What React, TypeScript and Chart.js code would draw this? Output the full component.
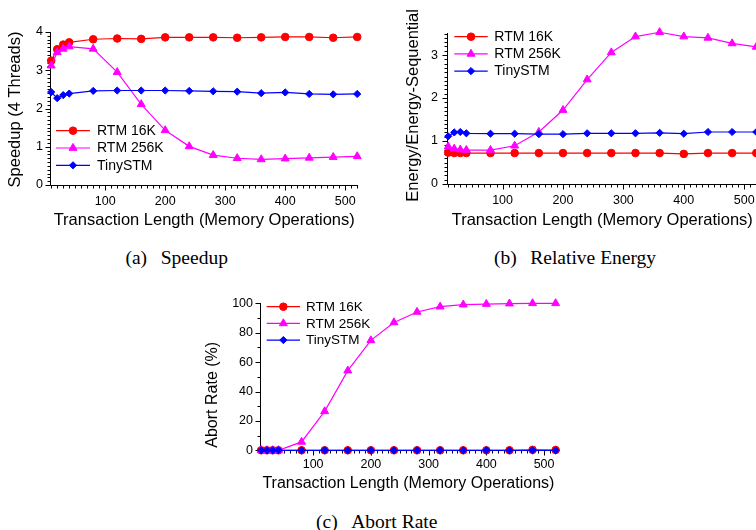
import React, { useEffect, useRef } from 'react';
import { Chart, registerables } from 'chart.js';
import { drawPoint } from 'chart.js/helpers';

Chart.register(...registerables);

const FONT = '"Liberation Sans", Arial, Helvetica, sans-serif';
Chart.defaults.font.family = FONT;

// ---------- data ----------
const txLength = [10, 20, 30, 40, 80, 120, 160, 200, 240, 280, 320, 360, 400, 440, 480, 520];
const seriesLabels = ['RTM 16K', 'RTM 256K', 'TinySTM'];

const speedupRTM16K = [3.25, 3.55, 3.67, 3.73, 3.81, 3.83, 3.82, 3.86, 3.86, 3.86, 3.85, 3.86, 3.87, 3.87, 3.85, 3.87];
const speedupRTM256K = [3.12, 3.47, 3.56, 3.62, 3.56, 2.95, 2.11, 1.43, 1.01, 0.78, 0.70, 0.67, 0.69, 0.71, 0.73, 0.75];
const speedupTinySTM = [2.43, 2.27, 2.35, 2.39, 2.46, 2.47, 2.47, 2.47, 2.46, 2.45, 2.44, 2.40, 2.42, 2.38, 2.37, 2.38];

const energyRTM16K = [0.73, 0.72, 0.72, 0.72, 0.72, 0.72, 0.72, 0.72, 0.72, 0.72, 0.72, 0.72, 0.70, 0.72, 0.72, 0.72];
const energyRTM256K = [0.87, 0.82, 0.80, 0.79, 0.79, 0.89, 1.21, 1.72, 2.43, 3.06, 3.43, 3.53, 3.43, 3.40, 3.27, 3.19];
const energyTinySTM = [1.11, 1.20, 1.21, 1.18, 1.17, 1.17, 1.16, 1.16, 1.18, 1.18, 1.18, 1.19, 1.17, 1.21, 1.21, 1.21];

const abortRTM16K = [0, 0, 0, 0, 0, 0, 0, 0, 0, 0, 0, 0, 0, 0, 0.3, 0.2];
const abortRTM256K = [0, 0, 0, 0, 5.7, 26.5, 54.2, 74.8, 87, 94.1, 97.7, 99.1, 99.5, 99.8, 100, 100];
const abortTinySTM = [0, 0, 0, 0, 0, 0, 0, 0, 0, 0, 0, 0, 0, 0, 0, 0];

const xTickValues = [100, 200, 300, 400, 500];
const speedupTickValues = [0, 1, 2, 3, 4];
const energyTickValues = [0, 1, 2, 3];
const abortTickValues = [0, 20, 40, 60, 80, 100];

const xTitleText = 'Transaction Length (Memory Operations)';

// ---------- styles ----------
const seriesColors = ['#ff0000', '#ff00ff', '#0000ff'];
const seriesMarkers = ['circle', 'triangle', 'rectRot'];
const seriesRadius = [3.8, 4.6, 3.6];

function makeDatasets(values: number[][]) {
  return values.map((vals, i) => ({
    label: seriesLabels[i],
    data: txLength.map((x, j) => ({ x, y: vals[j] })),
    borderColor: seriesColors[i],
    backgroundColor: seriesColors[i],
    pointBackgroundColor: seriesColors[i],
    pointBorderColor: seriesColors[i],
    pointStyle: seriesMarkers[i],
    pointRadius: seriesRadius[i],
    pointBorderWidth: 1,
    borderWidth: 1.2,
    tension: 0,
    clip: false as any,
    order: 2 - i,
  }));
}

function isMult(v: number, step: number) {
  const r = v / step;
  return Math.abs(r - Math.round(r)) < 1e-6;
}

const decor = {
  id: 'decor',
  beforeDatasetsDraw(chart: any, _a: any, o: any) {
    const { ctx, chartArea: ca, scales } = chart;
    const x = scales.x, y = scales.y;
    ctx.save();
    ctx.strokeStyle = '#000';
    ctx.lineWidth = 1;
    ctx.beginPath();
    const ax = Math.round(ca.left) + 0.5;
    const ay = Math.round(ca.bottom) + 0.5;
    ctx.moveTo(ax, Math.round(ca.top));
    ctx.lineTo(ax, ay);
    ctx.lineTo(Math.round(ca.right), ay);
    const xs = o.xMinor;
    for (let i = Math.ceil(x.min / xs - 1e-9); i * xs <= x.max + 1e-9; i++) {
      const v = i * xs;
      const major = isMult(v, o.xMajor);
      const px = Math.round(x.getPixelForValue(v)) + 0.5;
      ctx.moveTo(px, ay);
      ctx.lineTo(px, ay + (major ? 5 : 3));
    }
    const ys = o.yMinor;
    for (let i = Math.ceil(y.min / ys - 1e-9); i * ys <= y.max + 1e-9; i++) {
      const v = i * ys;
      const major = isMult(v, o.yMajor);
      const py = Math.round(y.getPixelForValue(v)) + 0.5;
      ctx.moveTo(ax, py);
      ctx.lineTo(ax - (major ? 5 : 3), py);
    }
    ctx.stroke();
    ctx.restore();
  },
  afterDraw(chart: any, _a: any, o: any) {
    const { ctx, chartArea: ca } = chart;
    ctx.save();
    ctx.fillStyle = '#000';
    // x title
    ctx.font = `${o.titleSize}px ${FONT}`;
    ctx.textAlign = 'center';
    ctx.textBaseline = 'middle';
    ctx.fillText(o.xTitle, (ca.left + ca.right) / 2, ca.bottom + o.xTitleDy);
    // y title
    ctx.save();
    ctx.translate(ca.left + o.yTitleDx, (ca.top + ca.bottom) / 2 + o.yTitleDy);
    ctx.rotate(-Math.PI / 2);
    ctx.fillText(o.yTitle, 0, 0);
    ctx.restore();
    // legend
    ctx.font = `${o.legendSize}px ${FONT}`;
    ctx.textAlign = 'left';
    chart.data.datasets.forEach((ds: any, i: number) => {
      const ry = ca.top + o.legDy + i * o.legRowH;
      const lx = ca.left + o.legDx;
      ctx.strokeStyle = ds.borderColor;
      ctx.lineWidth = 1.2;
      ctx.beginPath();
      ctx.moveTo(lx, ry);
      ctx.lineTo(lx + o.legLine, ry);
      ctx.stroke();
      ctx.fillStyle = ds.borderColor;
      ctx.strokeStyle = ds.borderColor;
      ctx.lineWidth = 1;
      drawPoint(ctx, { pointStyle: ds.pointStyle, radius: ds.pointRadius, borderWidth: 1, rotation: 0 } as any, lx + o.legLine / 2, ry);
      ctx.fillStyle = '#000';
      ctx.fillText(ds.label, ca.left + o.legText, ry + 0.5);
    });
    ctx.restore();
  },
};

type Geom = {
  left: number; top: number; w: number; h: number;
  yAxisW: number; xAxisH: number; padTop: number; padRight: number;
  yMax: number; yTicks: number[]; yMinor: number; yMajor: number;
  xPad: number; yPad: number; tickSize: number;
  yTitle: string; titleSize: number; xTitleDy: number; yTitleDx: number; yTitleDy: number;
  legendSize: number; legDx: number; legLine: number; legText: number; legDy: number; legRowH: number;
};

function SubChart({ g, values }: { g: Geom; values: number[][] }) {
  const ref = useRef<HTMLCanvasElement | null>(null);
  useEffect(() => {
    const chart = new Chart(ref.current as HTMLCanvasElement, {
      type: 'line',
      data: { datasets: makeDatasets(values) as any },
      plugins: [decor as any],
      options: {
        responsive: false,
        animation: false,
        layout: { padding: { top: g.padTop, right: g.padRight, left: 0, bottom: 0 } },
        plugins: {
          legend: { display: false },
          tooltip: { enabled: false },
          decor: {
            xMinor: 10, xMajor: 100, yMinor: g.yMinor, yMajor: g.yMajor,
            xTitle: xTitleText, yTitle: g.yTitle, titleSize: g.titleSize,
            xTitleDy: g.xTitleDy, yTitleDx: g.yTitleDx, yTitleDy: g.yTitleDy,
            legendSize: g.legendSize, legDx: g.legDx, legLine: g.legLine, legText: g.legText,
            legDy: g.legDy, legRowH: g.legRowH,
          },
        } as any,
        scales: {
          x: {
            type: 'linear',
            min: 8,
            max: 522,
            grid: { display: false, drawTicks: false },
            border: { display: false },
            ticks: { color: '#000', font: { size: g.tickSize }, padding: g.xPad, maxRotation: 0, autoSkip: false },
            afterBuildTicks: (s: any) => { s.ticks = xTickValues.map((v) => ({ value: v })); },
            afterFit: (s: any) => { s.height = g.xAxisH; },
          },
          y: {
            type: 'linear',
            min: 0,
            max: g.yMax,
            grid: { display: false, drawTicks: false },
            border: { display: false },
            ticks: { color: '#000', font: { size: g.tickSize }, padding: g.yPad, autoSkip: false },
            afterBuildTicks: (s: any) => { s.ticks = g.yTicks.map((v) => ({ value: v })); },
            afterFit: (s: any) => { s.width = g.yAxisW; },
          },
        } as any,
      },
    });
    return () => chart.destroy();
  }, []);
  return (
    <canvas
      ref={ref}
      width={g.w}
      height={g.h}
      style={{ position: 'absolute', left: g.left, top: g.top, width: g.w, height: g.h }}
    />
  );
}

const geomA: Geom = {
  left: 0, top: 0, w: 376, h: 240,
  yAxisW: 50, xAxisH: 55, padTop: 32, padRight: 17.6,
  yMax: 4, yTicks: speedupTickValues, yMinor: 0.1, yMajor: 1,
  xPad: 9, yPad: 7, tickSize: 12.5,
  yTitle: 'Speedup (4 Threads)', titleSize: 16.5, xTitleDy: 35, yTitleDx: -35, yTitleDy: 1,
  legendSize: 14, legDx: 6, legLine: 34, legText: 47, legDy: 98.7, legRowH: 17.3,
};

const geomB: Geom = {
  left: 376, top: 0, w: 400, h: 240,
  yAxisW: 71, xAxisH: 56, padTop: 32.7, padRight: 18.5,
  yMax: 3.52, yTicks: energyTickValues, yMinor: 0.1, yMajor: 1,
  xPad: 9, yPad: 9, tickSize: 12.5,
  yTitle: 'Energy/Energy-Sequential', titleSize: 16.5, xTitleDy: 36, yTitleDx: -34, yTitleDy: -3,
  legendSize: 14, legDx: 7.3, legLine: 33.4, legText: 47.3, legDy: 4, legRowH: 17.2,
};

const geomC: Geom = {
  left: 190, top: 280, w: 376, h: 220,
  yAxisW: 70, xAxisH: 49.7, padTop: 23.3, padRight: 9.2,
  yMax: 100, yTicks: abortTickValues, yMinor: 10, yMajor: 20,
  xPad: 7.2, yPad: 7, tickSize: 12.5,
  yTitle: 'Abort Rate (%)', titleSize: 16, xTitleDy: 33, yTitleDx: -47, yTitleDy: 18,
  legendSize: 13.5, legDx: 6.7, legLine: 33.3, legText: 46, legDy: 3.4, legRowH: 16.7,
};

const captionStyle = (cx: number, cy: number): React.CSSProperties => ({
  position: 'absolute',
  left: cx - 150,
  top: cy - 12,
  width: 300,
  height: 24,
  lineHeight: '24px',
  textAlign: 'center',
  fontFamily: '"Liberation Serif", "Times New Roman", Times, serif',
  fontSize: 19.5,
  color: '#000',
  whiteSpace: 'pre',
});

function Caption({ cx, cy, tag, text }: { cx: number; cy: number; tag: string; text: string }) {
  return (
    <div style={captionStyle(cx, cy)}>
      {tag}
      <span style={{ marginLeft: '0.7em' }}>{text}</span>
    </div>
  );
}

export default function App() {
  return (
    <div style={{ position: 'absolute', left: 0, top: 0, width: 756, height: 530, overflow: 'hidden', background: '#fff' }}>
      <SubChart g={geomA} values={[speedupRTM16K, speedupRTM256K, speedupTinySTM]} />
      <SubChart g={geomB} values={[energyRTM16K, energyRTM256K, energyTinySTM]} />
      <SubChart g={geomC} values={[abortRTM16K, abortRTM256K, abortTinySTM]} />
      <Caption cx={176.7} cy={258} tag="(a)" text="Speedup" />
      <Caption cx={575} cy={258} tag="(b)" text="Relative Energy" />
      <Caption cx={376.7} cy={521.7} tag="(c)" text="Abort Rate" />
    </div>
  );
}
